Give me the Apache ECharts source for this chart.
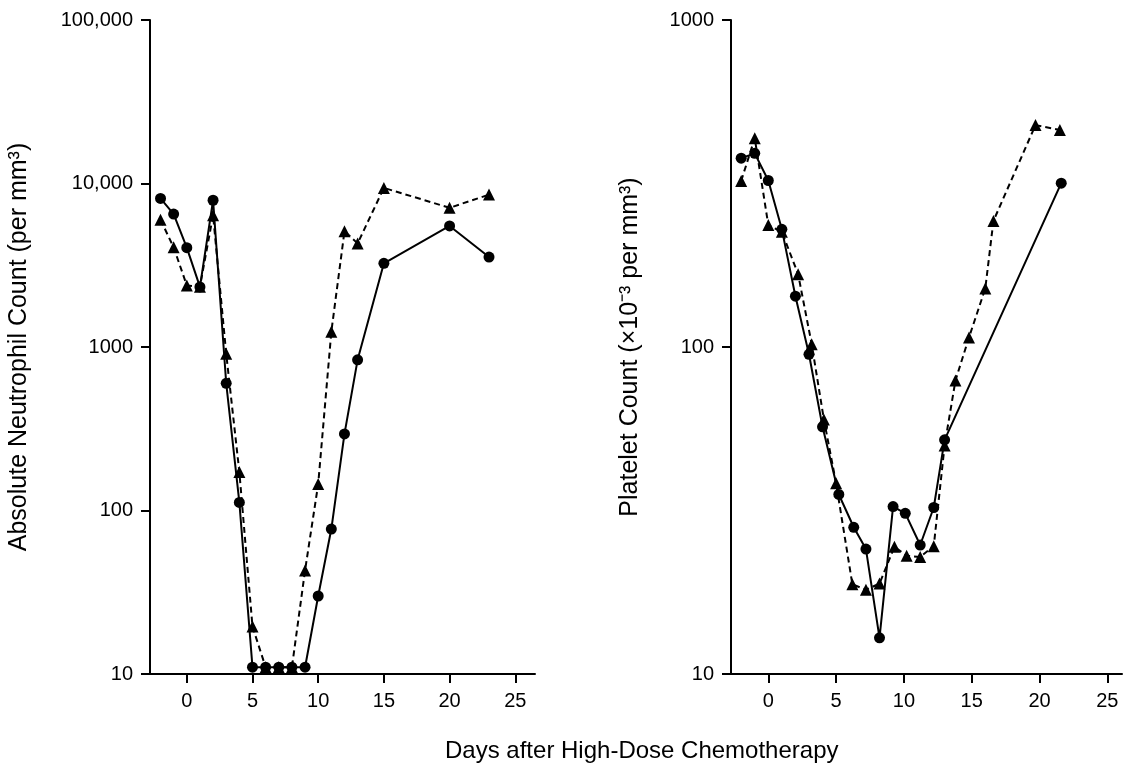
<!DOCTYPE html>
<html>
<head>
<meta charset="utf-8">
<script src="https://cdn.jsdelivr.net/npm/echarts@6/dist/echarts.min.js"></script>
<style>
  html, body { margin: 0; padding: 0; background: #fff; }
  #chart { width: 1124px; height: 769px; }
</style>
</head>
<body>
<div id="chart"></div>
<script>
// left panel: absolute neutrophil count
var ancDaysCircle = [-2, -1, 0, 1, 2, 3, 4, 5, 6, 7, 8, 9, 10, 11, 12, 13, 15, 20, 23]
var ancCircle = [8100, 6500, 4050, 2330, 7900, 600, 112, 11, 11, 11, 11, 11, 30, 77, 294, 835, 3250, 5500, 3550]
var ancDaysTri = [-2, -1, 0, 1, 2, 3, 4, 5, 6, 7, 8, 9, 10, 11, 12, 13, 15, 20, 23]
var ancTri = [6000, 4070, 2380, 2340, 6400, 910, 172, 19.5, 11, 11, 11, 43, 145, 1240, 5100, 4300, 9400, 7100, 8550]

// right panel: platelet count
var pltDaysCircle = [-2, -1, 0, 1, 2, 3, 4, 5.2, 6.3, 7.2, 8.2, 9.2, 10.1, 11.2, 12.2, 13, 21.6]
var pltCircle = [378, 391, 323, 229, 143, 95, 57, 35.4, 28.1, 24.1, 12.9, 32.5, 31, 24.8, 32.3, 52, 317]
var pltDaysTri = [-2, -1, 0, 1, 2.2, 3.2, 4.1, 5, 6.2, 7.2, 8.2, 9.3, 10.2, 11.2, 12.2, 13, 13.8, 14.8, 16, 16.6, 19.7, 21.5]
var pltTri = [322, 435, 236, 225, 167, 102, 60, 38.3, 18.8, 18.1, 18.9, 24.5, 23, 22.8, 24.6, 50, 79, 107, 151, 243, 477, 461]

var dayTicks = [0, 5, 10, 15, 20, 25]

function pairs(xs, ys) {
  return xs.map(function (x, i) { return [x, ys[i]] })
}

var font = 'Liberation Sans, Arial, sans-serif'
var axisTick = { show: true, length: 9, lineStyle: { color: '#000', width: 2 } }

function xAxis(grid, min, max) {
  return {
    type: 'value',
    gridIndex: grid,
    min: min,
    max: max,
    axisLine: { show: true, onZero: false, lineStyle: { color: '#000', width: 2 } },
    axisTick: Object.assign({ customValues: dayTicks }, axisTick),
    axisLabel: { customValues: dayTicks, color: '#000', fontSize: 20, fontFamily: font, margin: 17 },
    splitLine: { show: false }
  }
}

function yAxis(grid, max, name, gap) {
  return {
    type: 'log',
    logBase: 10,
    gridIndex: grid,
    min: 10,
    max: max,
    name: name,
    nameLocation: 'middle',
    nameGap: gap,
    nameTextStyle: { color: '#000', fontSize: 25, fontFamily: font },
    axisLine: { show: true, onZero: false, lineStyle: { color: '#000', width: 2 } },
    axisTick: axisTick,
    minorTick: { show: false },
    axisLabel: {
      color: '#000',
      fontSize: 20,
      fontFamily: font,
      margin: 17,
      formatter: function (v) {
        return v >= 10000 ? v.toLocaleString('en-US') : String(v)
      }
    },
    splitLine: { show: false }
  }
}

function line(name, data, xi, symbol, dashed) {
  return {
    name: name,
    type: 'line',
    xAxisIndex: xi,
    yAxisIndex: xi,
    data: data,
    symbol: symbol,
    symbolSize: symbol === 'circle' ? 11 : 12,
    showAllSymbol: true,
    itemStyle: { color: '#000' },
    lineStyle: { color: '#000', width: 2, type: dashed ? [6, 4] : 'solid' },
    animation: false
  }
}

var myChart = echarts.init(document.getElementById('chart'))
myChart.setOption({
  animation: false,
  title: {
    text: 'Days after High-Dose Chemotherapy',
    left: 440,
    top: 734,
    textStyle: { color: '#000', fontSize: 24, fontWeight: 'normal', fontFamily: font }
  },
  grid: [
    { left: 150, top: 20, width: 385, height: 654 },
    { left: 731, top: 20, width: 391, height: 654 }
  ],
  xAxis: [xAxis(0, -2.8, 26.5), xAxis(1, -2.75, 26.08)],
  yAxis: [
    yAxis(0, 100000, 'Absolute Neutrophil Count (per mm³)', 118),
    yAxis(1, 1000, 'Platelet Count (×10⁻³ per mm³)', 88)
  ],
  series: [
    line('ANC triangle', pairs(ancDaysTri, ancTri), 0, 'triangle', true),
    line('ANC circle', pairs(ancDaysCircle, ancCircle), 0, 'circle', false),
    line('Platelet triangle', pairs(pltDaysTri, pltTri), 1, 'triangle', true),
    line('Platelet circle', pairs(pltDaysCircle, pltCircle), 1, 'circle', false)
  ]
})
</script>
</body>
</html>
